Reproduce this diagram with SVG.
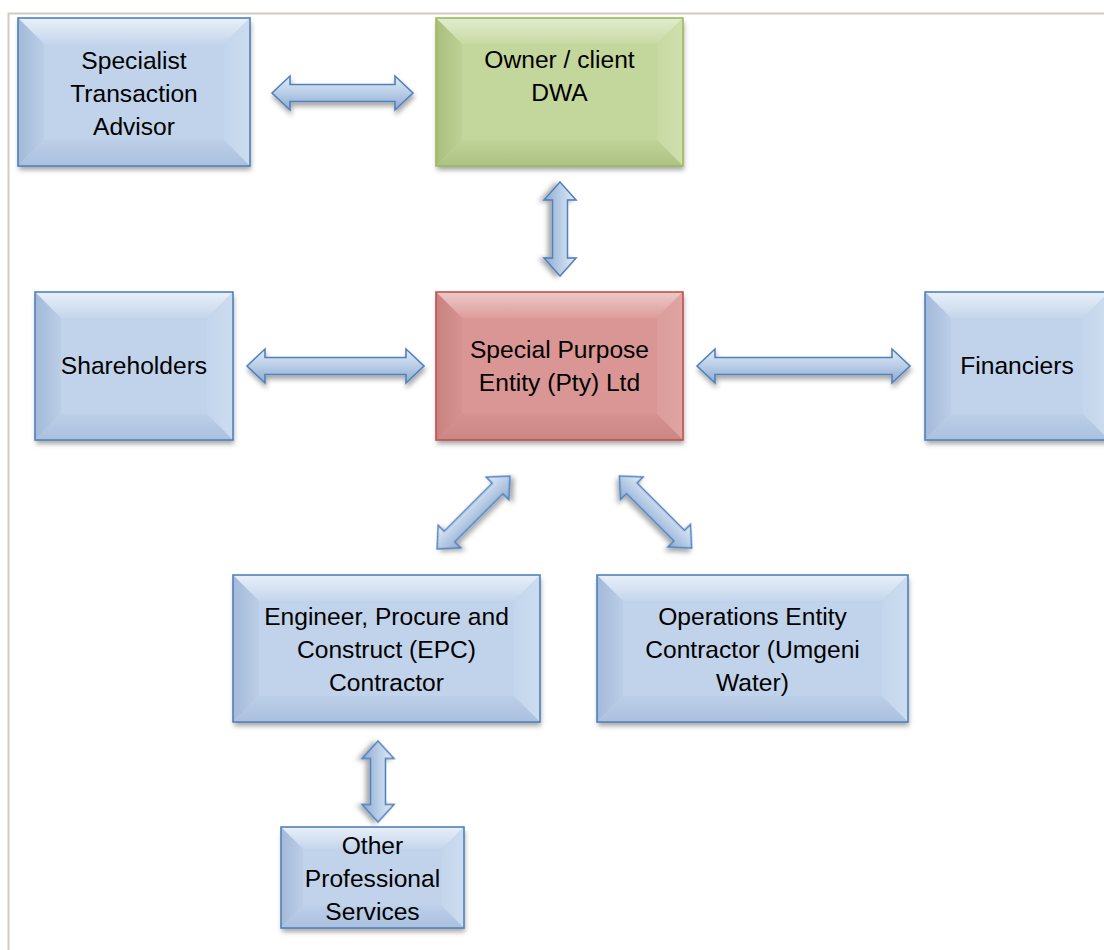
<svg xmlns="http://www.w3.org/2000/svg" width="1104" height="950" viewBox="0 0 1104 950">
<style>
text{font-family:"Liberation Sans",Arial,sans-serif;font-size:24.6px;fill:#000;text-anchor:middle}
.face-b{fill:#c0d3ea}.top-b{fill:url(#tb)}.left-b{fill:url(#lb)}.right-b{fill:url(#rb)}.bot-b{fill:url(#bb)}.out-b{fill:none;stroke:#4f81bd;stroke-width:1.6}
.face-g{fill:#c3d69b}.top-g{fill:url(#tg)}.left-g{fill:url(#lg)}.right-g{fill:url(#rg)}.bot-g{fill:url(#bg)}.out-g{fill:none;stroke:#9bbb59;stroke-width:1.6}
.face-r{fill:#d99694}.top-r{fill:url(#tr)}.left-r{fill:url(#lr)}.right-r{fill:url(#rr)}.bot-r{fill:url(#br)}.out-r{fill:none;stroke:#c0504d;stroke-width:1.6}
.arr{fill:url(#ag);stroke:#4f81bd;stroke-width:1.6;stroke-linejoin:miter;filter:url(#sh)}
.sh{filter:url(#sh)}
</style>
<defs>
<filter id="sh" x="-10%" y="-10%" width="130%" height="140%"><feDropShadow dx="1" dy="4" stdDeviation="2.5" flood-color="#000" flood-opacity="0.35"/></filter>
<linearGradient id="tb" x1="0" y1="0" x2="0" y2="1"><stop offset="0" stop-color="#e8f0f9"/><stop offset="1" stop-color="#c4d6ec"/></linearGradient>
<linearGradient id="lb" x1="0" y1="0" x2="1" y2="0"><stop offset="0" stop-color="#a3b9d8"/><stop offset="1" stop-color="#bbcee7"/></linearGradient>
<linearGradient id="rb" x1="0" y1="0" x2="1" y2="0"><stop offset="0" stop-color="#c4d6ec"/><stop offset="1" stop-color="#ccdcf0"/></linearGradient>
<linearGradient id="bb" x1="0" y1="0" x2="0" y2="1"><stop offset="0" stop-color="#bccfe8"/><stop offset="1" stop-color="#aac0de"/></linearGradient>
<linearGradient id="tg" x1="0" y1="0" x2="0" y2="1"><stop offset="0" stop-color="#e2ecd0"/><stop offset="1" stop-color="#c8daa3"/></linearGradient>
<linearGradient id="lg" x1="0" y1="0" x2="1" y2="0"><stop offset="0" stop-color="#a9be7c"/><stop offset="1" stop-color="#bdd196"/></linearGradient>
<linearGradient id="rg" x1="0" y1="0" x2="1" y2="0"><stop offset="0" stop-color="#c8daa3"/><stop offset="1" stop-color="#cfdfad"/></linearGradient>
<linearGradient id="bg" x1="0" y1="0" x2="0" y2="1"><stop offset="0" stop-color="#bfd396"/><stop offset="1" stop-color="#adc284"/></linearGradient>
<linearGradient id="tr" x1="0" y1="0" x2="0" y2="1"><stop offset="0" stop-color="#ecc9c8"/><stop offset="1" stop-color="#dc9d9b"/></linearGradient>
<linearGradient id="lr" x1="0" y1="0" x2="1" y2="0"><stop offset="0" stop-color="#c98280"/><stop offset="1" stop-color="#d59290"/></linearGradient>
<linearGradient id="rr" x1="0" y1="0" x2="1" y2="0"><stop offset="0" stop-color="#dc9d9b"/><stop offset="1" stop-color="#e0a4a2"/></linearGradient>
<linearGradient id="br" x1="0" y1="0" x2="0" y2="1"><stop offset="0" stop-color="#d59290"/><stop offset="1" stop-color="#cb8684"/></linearGradient>
<linearGradient id="ag" x1="0" y1="0" x2="0" y2="1"><stop offset="0" stop-color="#e4ecf6"/><stop offset="0.45" stop-color="#bcd0e8"/><stop offset="1" stop-color="#8eaad0"/></linearGradient>
</defs>

<rect x="8.5" y="13.5" width="1110" height="950" fill="none" stroke="#d3cbc3" stroke-width="2"/>

<g id="connectors">
<polygon class="arr" transform="translate(342.5,93)" points="-70.5,0 -52.5,-17 -52.5,-8.5 52.5,-8.5 52.5,-17 70.5,0 52.5,17 52.5,8.5 -52.5,8.5 -52.5,17"/>
<polygon class="arr" transform="translate(560,229) rotate(90)" points="-47,0 -29,-16 -29,-7.5 29,-7.5 29,-16 47,0 29,16 29,7.5 -29,7.5 -29,16"/>
<polygon class="arr" transform="translate(335.5,366)" points="-88.5,0 -70.5,-17 -70.5,-8.5 70.5,-8.5 70.5,-17 88.5,0 70.5,17 70.5,8.5 -70.5,8.5 -70.5,17"/>
<polygon class="arr" transform="translate(803.5,366)" points="-106.5,0 -88.5,-17 -88.5,-8.5 88.5,-8.5 88.5,-17 106.5,0 88.5,17 88.5,8.5 -88.5,8.5 -88.5,17"/>
<polygon class="arr" transform="translate(473.5,512.5) rotate(-45)" points="-51.5,0 -34,-16 -34,-7.5 34,-7.5 34,-16 51.5,0 34,16 34,7.5 -34,7.5 -34,16"/>
<polygon class="arr" transform="translate(655.5,512) rotate(45)" points="-51,0 -33.5,-16 -33.5,-7.5 33.5,-7.5 33.5,-16 51,0 33.5,16 33.5,7.5 -33.5,7.5 -33.5,16"/>
<polygon class="arr" transform="translate(378,781.5) rotate(90)" points="-40.5,0 -23,-16 -23,-7.5 23,-7.5 23,-16 40.5,0 23,16 23,7.5 -23,7.5 -23,16"/>
</g>

<g id="specialist-transaction-advisor">
<rect class="face-b sh" x="18" y="18" width="232" height="148"/>
<polygon class="top-b" points="18,18 250,18 224,44 44,44"/>
<polygon class="left-b" points="18,18 44,44 44,140 18,166"/>
<polygon class="right-b" points="250,18 250,166 224,140 224,44"/>
<polygon class="bot-b" points="18,166 44,140 224,140 250,166"/>
<rect class="out-b" x="18" y="18" width="232" height="148"/>
<text x="134" y="69">Specialist</text><text x="134" y="102">Transaction</text><text x="134" y="135">Advisor</text>
</g>

<g id="owner-client">
<rect class="face-g sh" x="436" y="18" width="247" height="148"/>
<polygon class="top-g" points="436,18 683,18 657,44 462,44"/>
<polygon class="left-g" points="436,18 462,44 462,140 436,166"/>
<polygon class="right-g" points="683,18 683,166 657,140 657,44"/>
<polygon class="bot-g" points="436,166 462,140 657,140 683,166"/>
<rect class="out-g" x="436" y="18" width="247" height="148"/>
<text x="559.5" y="68">Owner / client</text><text x="559.5" y="101">DWA</text>
</g>

<g id="shareholders">
<rect class="face-b sh" x="35" y="292" width="198" height="148"/>
<polygon class="top-b" points="35,292 233,292 207,318 61,318"/>
<polygon class="left-b" points="35,292 61,318 61,414 35,440"/>
<polygon class="right-b" points="233,292 233,440 207,414 207,318"/>
<polygon class="bot-b" points="35,440 61,414 207,414 233,440"/>
<rect class="out-b" x="35" y="292" width="198" height="148"/>
<text x="134" y="374">Shareholders</text>
</g>

<g id="special-purpose-entity">
<rect class="face-r sh" x="436" y="292" width="247" height="148"/>
<polygon class="top-r" points="436,292 683,292 657,318 462,318"/>
<polygon class="left-r" points="436,292 462,318 462,414 436,440"/>
<polygon class="right-r" points="683,292 683,440 657,414 657,318"/>
<polygon class="bot-r" points="436,440 462,414 657,414 683,440"/>
<rect class="out-r" x="436" y="292" width="247" height="148"/>
<text x="559.5" y="358">Special Purpose</text><text x="559.5" y="391">Entity (Pty) Ltd</text>
</g>

<g id="financiers">
<rect class="face-b sh" x="925" y="292" width="184" height="148"/>
<polygon class="top-b" points="925,292 1109,292 1083,318 951,318"/>
<polygon class="left-b" points="925,292 951,318 951,414 925,440"/>
<polygon class="right-b" points="1109,292 1109,440 1083,414 1083,318"/>
<polygon class="bot-b" points="925,440 951,414 1083,414 1109,440"/>
<rect class="out-b" x="925" y="292" width="184" height="148"/>
<text x="1017" y="374">Financiers</text>
</g>

<g id="epc-contractor">
<rect class="face-b sh" x="233" y="575" width="307" height="147"/>
<polygon class="top-b" points="233,575 540,575 514,601 259,601"/>
<polygon class="left-b" points="233,575 259,601 259,696 233,722"/>
<polygon class="right-b" points="540,575 540,722 514,696 514,601"/>
<polygon class="bot-b" points="233,722 259,696 514,696 540,722"/>
<rect class="out-b" x="233" y="575" width="307" height="147"/>
<text x="386.5" y="625">Engineer, Procure and</text><text x="386.5" y="658">Construct (EPC)</text><text x="386.5" y="691">Contractor</text>
</g>

<g id="operations-contractor">
<rect class="face-b sh" x="597" y="575" width="311" height="147"/>
<polygon class="top-b" points="597,575 908,575 882,601 623,601"/>
<polygon class="left-b" points="597,575 623,601 623,696 597,722"/>
<polygon class="right-b" points="908,575 908,722 882,696 882,601"/>
<polygon class="bot-b" points="597,722 623,696 882,696 908,722"/>
<rect class="out-b" x="597" y="575" width="311" height="147"/>
<text x="752.5" y="625">Operations Entity</text><text x="752.5" y="658">Contractor (Umgeni</text><text x="752.5" y="691">Water)</text>
</g>

<g id="other-professional-services">
<rect class="face-b sh" x="281" y="827" width="183" height="101"/>
<polygon class="top-b" points="281,827 464,827 442,849 303,849"/>
<polygon class="left-b" points="281,827 303,849 303,906 281,928"/>
<polygon class="right-b" points="464,827 464,928 442,906 442,849"/>
<polygon class="bot-b" points="281,928 303,906 442,906 464,928"/>
<rect class="out-b" x="281" y="827" width="183" height="101"/>
<text x="372.5" y="854">Other</text><text x="372.5" y="887">Professional</text><text x="372.5" y="920">Services</text>
</g>
</svg>
